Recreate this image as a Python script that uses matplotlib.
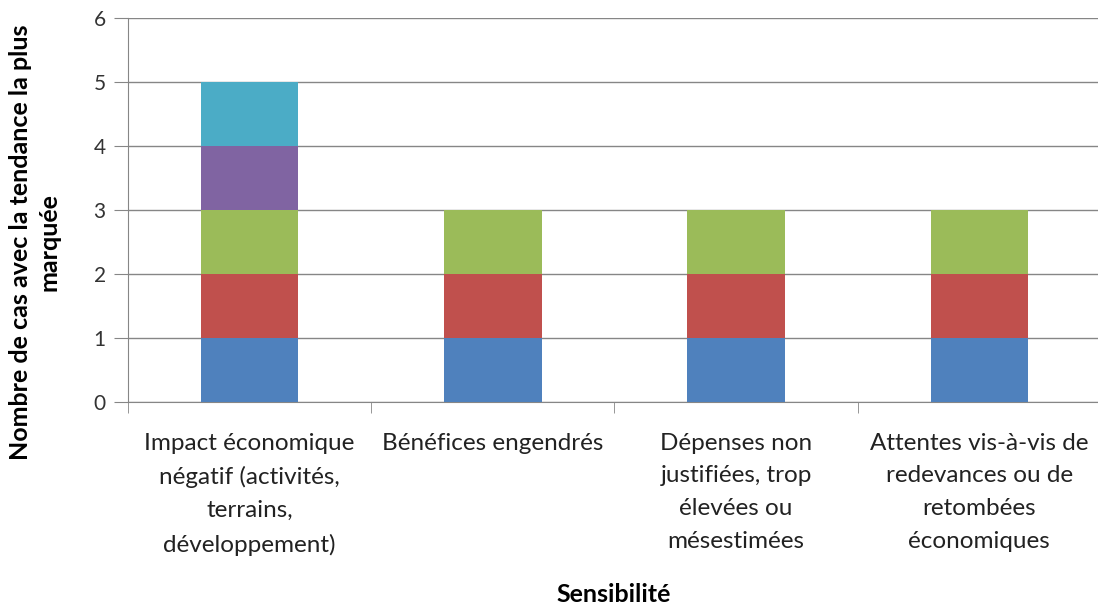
import matplotlib
matplotlib.use("Agg")
import matplotlib.pyplot as plt
import numpy as np

categories = ["Impact économique\nnégatif (activités,\nterrains,\ndéveloppement)",
              "Bénéfices engendrés",
              "Dépenses non\njustifiées, trop\nélevées ou\nmésestimées",
              "Attentes vis-à-vis de\nredevances ou de\nretombées\néconomiques"]
s1 = [1, 1, 1, 1]
s2 = [1, 1, 1, 1]
s3 = [1, 1, 1, 1]
s4 = [1, 0, 0, 0]
s5 = [1, 0, 0, 0]
series = [s1, s2, s3, s4, s5]
colors = ["#4F81BD", "#C0504D", "#9BBB59", "#8064A2", "#4BACC6"]
yticks = [0, 1, 2, 3, 4, 5, 6]

plt.rcParams['font.family'] = ['Lato', 'DejaVu Sans']
fig = plt.figure(figsize=(10.98, 6.10), dpi=100)
ax = fig.add_axes([128/1098, 1-402/610, 973/1098, 384/610])

x = np.arange(len(categories))
bottom = np.zeros(len(categories))
for vals, c in zip(series, colors):
    v = np.array(vals, dtype=float)
    ax.bar(x, v, bottom=bottom, width=0.40, color=c, zorder=3)
    bottom += v

gc = "#868686"
ax.set_ylim(0, 6)
ax.set_xlim(-0.5, len(categories) - 0.5)
ax.set_yticks(yticks)
ax.yaxis.grid(True, color=gc, linewidth=1, zorder=0)
ax.tick_params(axis='y', length=10, color=gc, labelsize=15, labelcolor="#333333", pad=6)
ax.set_xticks(x)
ax.set_xticklabels(categories, fontsize=17.5, linespacing=1.7, va='top')
ax.tick_params(axis='x', which='major', length=0, pad=22, labelcolor="#222222")
ax.set_xticks(np.arange(-0.5, len(categories), 1.0), minor=True)
ax.tick_params(axis='x', which='minor', length=8, color=gc)
for s in ['top', 'right']:
    ax.spines[s].set_visible(False)
for s in ['left', 'bottom']:
    ax.spines[s].set_color(gc)

fig.text(35/1098, 1-242/610, "Nombre de cas avec la tendance la plus\nmarquée",
         rotation=90, ha='center', va='center', fontsize=18, fontweight='bold',
         linespacing=1.3, multialignment='center')
fig.text(614/1098, 1-594/610, "Sensibilité", ha='center', va='center',
         fontsize=18, fontweight='bold')

fig.savefig("out.png", dpi=100)
